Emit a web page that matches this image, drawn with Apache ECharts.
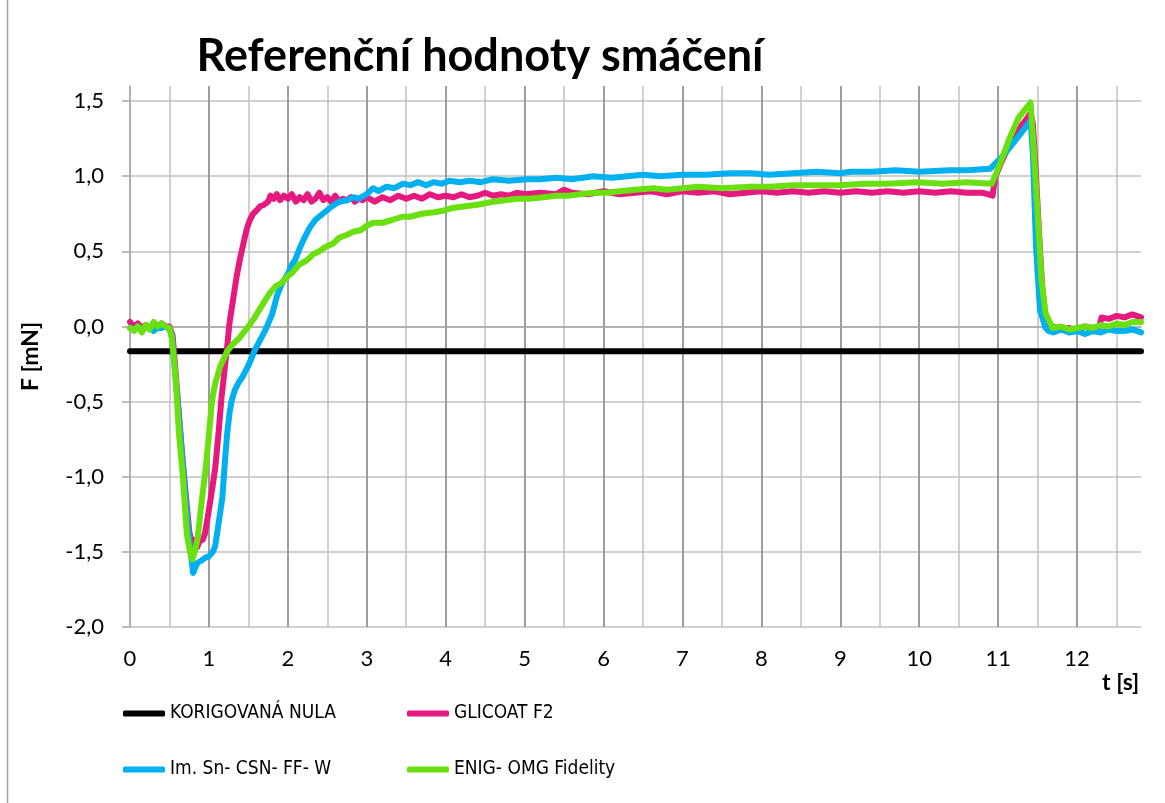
<!DOCTYPE html>
<html>
<head>
<meta charset="utf-8">
<script src="https://cdn.jsdelivr.net/npm/echarts@6/dist/echarts.min.js"></script>
<style>
html,body{margin:0;padding:0;background:#fff;}
#chart{width:1165px;height:803px;}
</style>
</head>
<body>
<div id="chart"></div>
<script>
const chartTitle = 'Referenční hodnoty smáčení';
const seriesNames = ['KORIGOVANÁ NULA', 'GLICOAT F2', 'Im. Sn- CSN- FF- W', 'ENIG- OMG Fidelity'];
const seriesColors = ['#000000', '#E5197E', '#00B0F0', '#6BE010'];
const xTickLabels = [0,1,2,3,4,5,6,7,8,9,10,11,12];
const yTickLabels = [-2.0,-1.5,-1.0,-0.5,0.0,0.5,1.0,1.5];

// [t (s), F (mN)]
const nullLine = [[0,-0.165],[12.81,-0.165]];

const glicoat = [[0,0.03],[0.05,0.0],[0.1,0.02],[0.15,-0.01],[0.2,0.01],[0.25,-0.01],[0.3,0.01],[0.35,0.0],[0.4,0.02],[0.45,0.0],[0.5,0.0],[0.54,-0.06],[0.6,-0.45],[0.65,-0.78],[0.7,-1.08],[0.75,-1.36],[0.79,-1.48],[0.82,-1.42],[0.85,-1.47],[0.88,-1.43],[0.92,-1.42],[0.95,-1.38],[1.0,-1.22],[1.05,-1.05],[1.08,-0.94],[1.12,-0.72],[1.16,-0.47],[1.2,-0.28],[1.23,-0.14],[1.26,0.02],[1.31,0.19],[1.35,0.33],[1.39,0.44],[1.44,0.56],[1.48,0.65],[1.52,0.71],[1.56,0.75],[1.6,0.77],[1.65,0.80],[1.7,0.81],[1.75,0.83],[1.78,0.87],[1.82,0.85],[1.86,0.88],[1.9,0.84],[1.95,0.87],[2.0,0.85],[2.05,0.88],[2.1,0.83],[2.15,0.86],[2.2,0.84],[2.25,0.88],[2.3,0.83],[2.35,0.85],[2.4,0.89],[2.45,0.84],[2.5,0.86],[2.55,0.83],[2.6,0.87],[2.65,0.83],[2.7,0.85],[2.75,0.84],[2.8,0.86],[2.85,0.83],[2.9,0.85],[2.95,0.84],[3.0,0.86],[3.1,0.83],[3.2,0.86],[3.3,0.84],[3.4,0.87],[3.5,0.85],[3.6,0.87],[3.7,0.85],[3.8,0.88],[3.9,0.86],[4.0,0.87],[4.1,0.86],[4.2,0.88],[4.3,0.86],[4.4,0.87],[4.5,0.89],[4.6,0.87],[4.7,0.88],[4.8,0.87],[4.9,0.89],[5.0,0.88],[5.2,0.89],[5.4,0.88],[5.5,0.91],[5.6,0.89],[5.8,0.88],[6.0,0.90],[6.2,0.88],[6.4,0.89],[6.6,0.90],[6.8,0.88],[7.0,0.90],[7.2,0.89],[7.4,0.90],[7.6,0.88],[7.8,0.89],[8.0,0.90],[8.2,0.89],[8.4,0.90],[8.6,0.89],[8.8,0.90],[9.0,0.89],[9.2,0.90],[9.4,0.89],[9.6,0.90],[9.8,0.89],[10.0,0.90],[10.2,0.89],[10.4,0.90],[10.6,0.89],[10.8,0.89],[10.93,0.87],[10.96,0.99],[11.03,1.08],[11.1,1.16],[11.2,1.27],[11.3,1.34],[11.36,1.38],[11.41,1.42],[11.44,1.35],[11.48,1.0],[11.52,0.6],[11.56,0.25],[11.6,0.05],[11.65,-0.01],[11.7,0.0],[11.8,-0.02],[11.9,-0.01],[12.0,-0.03],[12.1,0.0],[12.2,-0.01],[12.28,0.0],[12.31,0.06],[12.4,0.05],[12.5,0.07],[12.6,0.06],[12.7,0.08],[12.81,0.06]];

const imSn = [[0,-0.01],[0.05,-0.02],[0.1,0.0],[0.15,-0.02],[0.2,-0.01],[0.25,0.0],[0.3,-0.03],[0.35,-0.01],[0.4,-0.01],[0.45,0.0],[0.5,-0.02],[0.53,-0.06],[0.6,-0.48],[0.65,-0.80],[0.7,-1.12],[0.75,-1.42],[0.8,-1.64],[0.83,-1.6],[0.86,-1.57],[0.9,-1.56],[0.95,-1.54],[1.0,-1.53],[1.05,-1.5],[1.08,-1.46],[1.12,-1.32],[1.17,-1.14],[1.2,-0.92],[1.23,-0.72],[1.26,-0.58],[1.29,-0.49],[1.33,-0.42],[1.38,-0.37],[1.42,-0.34],[1.5,-0.26],[1.58,-0.16],[1.65,-0.09],[1.72,-0.02],[1.8,0.08],[1.86,0.2],[1.92,0.28],[2.0,0.35],[2.05,0.41],[2.09,0.44],[2.15,0.52],[2.22,0.6],[2.28,0.66],[2.35,0.71],[2.42,0.74],[2.49,0.77],[2.56,0.8],[2.65,0.83],[2.75,0.84],[2.83,0.86],[2.9,0.85],[3.0,0.88],[3.08,0.92],[3.15,0.90],[3.25,0.93],[3.35,0.92],[3.46,0.95],[3.55,0.94],[3.65,0.96],[3.75,0.94],[3.85,0.96],[3.95,0.95],[4.05,0.97],[4.18,0.96],[4.3,0.97],[4.45,0.96],[4.6,0.98],[4.8,0.97],[5.03,0.98],[5.2,0.98],[5.4,0.99],[5.6,0.98],[5.87,1.0],[6.1,0.99],[6.3,1.0],[6.5,1.01],[6.72,1.0],[7.0,1.01],[7.3,1.01],[7.6,1.02],[7.86,1.02],[8.1,1.01],[8.4,1.02],[8.7,1.03],[9.0,1.02],[9.13,1.03],[9.4,1.03],[9.7,1.04],[10.0,1.03],[10.39,1.04],[10.6,1.04],[10.9,1.05],[11.07,1.14],[11.28,1.28],[11.41,1.37],[11.44,1.15],[11.48,0.53],[11.53,0.11],[11.6,-0.01],[11.64,-0.03],[11.7,-0.04],[11.8,-0.02],[11.9,-0.04],[12.0,-0.03],[12.1,-0.05],[12.2,-0.03],[12.3,-0.04],[12.4,-0.02],[12.5,-0.03],[12.6,-0.03],[12.7,-0.02],[12.81,-0.04]];

const enig = [[0,-0.01],[0.05,-0.03],[0.1,0.0],[0.15,-0.04],[0.2,0.01],[0.25,-0.02],[0.3,0.03],[0.35,0.0],[0.4,0.02],[0.45,0.0],[0.5,-0.01],[0.53,-0.08],[0.58,-0.35],[0.62,-0.71],[0.67,-1.0],[0.72,-1.38],[0.76,-1.5],[0.79,-1.55],[0.82,-1.5],[0.86,-1.4],[0.9,-1.2],[0.96,-0.94],[1.0,-0.72],[1.04,-0.49],[1.08,-0.38],[1.14,-0.27],[1.2,-0.2],[1.24,-0.16],[1.3,-0.12],[1.38,-0.08],[1.44,-0.04],[1.5,0.0],[1.58,0.06],[1.65,0.12],[1.72,0.18],[1.77,0.22],[1.85,0.27],[1.92,0.29],[1.99,0.33],[2.06,0.36],[2.14,0.41],[2.24,0.44],[2.32,0.48],[2.4,0.50],[2.48,0.53],[2.57,0.55],[2.65,0.59],[2.75,0.61],[2.83,0.63],[2.92,0.64],[3.0,0.67],[3.08,0.69],[3.2,0.69],[3.33,0.71],[3.45,0.73],[3.55,0.73],[3.7,0.75],[3.85,0.76],[3.97,0.77],[4.1,0.79],[4.25,0.80],[4.4,0.81],[4.6,0.83],[4.75,0.84],[4.9,0.85],[5.05,0.85],[5.24,0.86],[5.4,0.87],[5.55,0.87],[5.7,0.88],[5.87,0.89],[6.05,0.89],[6.2,0.90],[6.4,0.91],[6.63,0.92],[6.8,0.91],[7.0,0.92],[7.2,0.93],[7.5,0.92],[7.86,0.93],[8.1,0.93],[8.4,0.94],[8.7,0.94],[9.0,0.94],[9.3,0.95],[9.6,0.95],[9.97,0.96],[10.3,0.95],[10.6,0.96],[10.92,0.95],[11.03,1.09],[11.15,1.26],[11.26,1.39],[11.41,1.49],[11.45,1.19],[11.5,0.75],[11.55,0.31],[11.6,0.09],[11.69,-0.01],[11.8,0.0],[11.9,-0.02],[12.0,-0.01],[12.1,0.0],[12.2,-0.01],[12.3,0.01],[12.4,0.0],[12.5,0.02],[12.6,0.01],[12.7,0.03],[12.81,0.03]];

const seriesData = [nullLine, glicoat, imSn, enig];

const FONT = 'Lato';
const LEGEND_FONT = "'Liberation Sans Narrow', 'DejaVu Sans Condensed', Lato";
const chart = echarts.init(document.getElementById('chart'), null, {renderer: 'canvas'});

const legendPos = [[123, 703], [407, 703], [123, 759], [407, 759]];

const option = {
  animation: false,
  backgroundColor: '#ffffff',
  textStyle: {fontFamily: FONT},
  title: {
    text: chartTitle,
    left: 475, top: 29,
    textAlign: 'center',
    textStyle: {fontFamily: FONT, fontSize: 45, fontWeight: 'bold', color: '#000'}
  },
  grid: {left: 130, top: 86, right: 24, bottom: 176, containLabel: false},
  legend: seriesNames.map((n, i) => ({
    data: [{name: n, icon: 'roundRect', itemStyle: {color: seriesColors[i]}}],
    left: legendPos[i][0], top: legendPos[i][1],
    padding: 0,
    itemWidth: 42, itemHeight: 6,
    itemGap: 0,
    textStyle: {fontFamily: LEGEND_FONT, fontSize: 19, color: '#000', lineHeight: 21},
    selectedMode: false
  })),
  xAxis: [{
    type: 'value', min: 0, max: 12.81, interval: 0.5,
    axisLine: {show: true, lineStyle: {color: '#a6a6a6', width: 1.5}},
    axisTick: {show: false},
    axisLabel: {
      customValues: xTickLabels,
      fontFamily: FONT, fontSize: 22, color: '#000', margin: 21,
      formatter: v => String(Math.round(v))
    },
    splitLine: {show: true, showMaxLine: false, lineStyle: {color: '#c0c0c0', width: 1.5}}
  }, {
    type: 'value', min: 0, max: 12.81, interval: 1, position: 'top',
    axisLine: {show: false}, axisTick: {show: false}, axisLabel: {show: false},
    splitLine: {show: true, showMaxLine: false, showMinLine: false, lineStyle: {color: '#8c8c8c', width: 1.5}}
  }],
  yAxis: {
    type: 'value', min: -2, max: 1.6, interval: 0.1,
    name: 'F [mN]', nameLocation: 'middle', nameGap: 88, nameRotate: 90,
    nameTextStyle: {fontFamily: FONT, fontSize: 23, fontWeight: 'bold', color: '#000'},
    axisLine: {show: true, lineStyle: {color: '#a6a6a6', width: 1.5}},
    axisTick: {show: true, customValues: yTickLabels, length: 8, lineStyle: {color: '#a6a6a6', width: 1.5}},
    axisLabel: {
      customValues: yTickLabels,
      fontFamily: FONT, fontSize: 22, color: '#000', margin: 26,
      formatter: v => v.toFixed(1).replace('.', ',')
    },
    splitLine: {show: true, lineStyle: {color: '#c0c0c0', width: 1.5}}
  },
  graphic: [
    {type: 'text', left: 1102, top: 671, style: {text: 't [s]', font: 'bold 23px ' + FONT, fill: '#000'}},
    {type: 'line', shape: {x1: 7.5, y1: 0, x2: 7.5, y2: 803}, style: {stroke: '#a0a0a0', lineWidth: 1.5}}
  ],
  series: seriesNames.map((n, i) => ({
    name: n,
    type: 'line',
    xAxisIndex: 0,
    data: seriesData[i],
    showSymbol: false,
    symbol: 'none',
    lineStyle: {color: seriesColors[i], width: 6, cap: 'round', join: 'round'},
    itemStyle: {color: seriesColors[i]},
    emphasis: {disabled: true},
    z: 2 + i
  }))
};
chart.setOption(option);
</script>
</body>
</html>
